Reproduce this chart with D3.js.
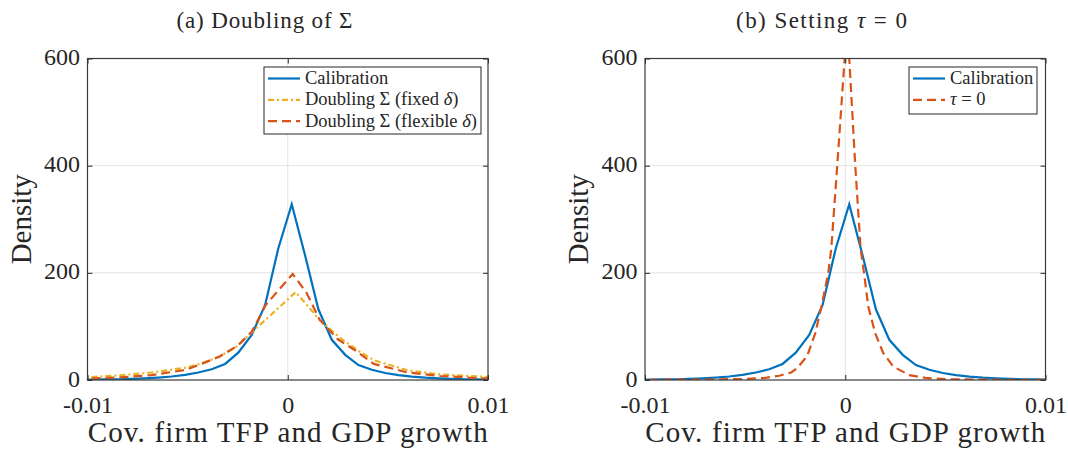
<!DOCTYPE html>
<html>
<head>
<meta charset="utf-8">
<script src="https://cdn.jsdelivr.net/npm/d3@7"></script>
<style>
  body { margin: 0; background: #fff; }
  svg text { font-family: "Liberation Serif", "DejaVu Serif", serif; fill: #262626; }
</style>
</head>
<body>
<script>
// ---- data ----
var xTicks = [-0.01, 0, 0.01];
var xTickLabels = ["-0.01", "0", "0.01"];
var yTicks = [0, 200, 400, 600];

var calX = [-0.0105, -0.0098, -0.00913, -0.00847, -0.0078, -0.00713, -0.00647, -0.0058, -0.00513, -0.00447,
            -0.0038, -0.00313, -0.00247, -0.0018, -0.00113, -0.00047, 0.0002, 0.00087, 0.00153, 0.0022,
            0.00287, 0.00353, 0.0042, 0.00487, 0.00553, 0.0062, 0.00687, 0.00753, 0.0082, 0.00887, 0.00953, 0.0102];
var calY = [0.5, 0.7, 1.0, 1.4, 2.0, 3.0, 4.5, 6.5, 9.5, 14,
            20, 30, 51, 84, 140, 246, 328, 232, 132, 75,
            47, 28, 19, 13, 9, 6.2, 4.3, 3, 2, 1.4, 1, 0.7];

var fixedX = [-0.0105, -0.0085, -0.0068, -0.0051, -0.0043, -0.0034, -0.0026, -0.0015, 0.0004,
              0.0016, 0.0026, 0.0035, 0.0043, 0.006, 0.0076, 0.0098, 0.0105];
var fixedY = [4, 8.5, 14, 23, 31, 44, 61, 99, 164,
              112, 79, 55, 37, 18, 10.5, 6, 5];

var flexX = [-0.0105, -0.0085, -0.0068, -0.0051, -0.0043, -0.0034, -0.0025, -0.0018, -0.0011, 0.00025,
             0.00095, 0.0016, 0.0025, 0.0033, 0.0043, 0.006, 0.0076, 0.0098, 0.0105];
var flexY = [1.8, 4.5, 9, 19, 30, 44, 64, 90, 140, 198,
             162, 112, 76, 57, 30, 14, 7.5, 3, 2.5];

var tauX = [-0.0105, -0.007, -0.005, -0.004, -0.0033, -0.0027, -0.0024, -0.0019, -0.0015, -0.0012,
            -0.00085, -0.0007, -0.0004, -0.00003, 0.0001, 0.0002, 0.0005, 0.00077, 0.00094, 0.00115,
            0.0015, 0.0019, 0.0024, 0.0032, 0.004, 0.005, 0.007, 0.0105];
var tauY = [0.3, 0.8, 2, 4, 8, 14, 22, 45, 87, 135,
            200, 244, 400, 600, 690, 600, 400, 244, 199, 137,
            87, 50, 25, 9, 4, 1.5, 0.6, 0.2];

var colBlue = "#0072BD", colRed = "#D95319", colYellow = "#EDB120";

var W = 1068, H = 449;
var svg = d3.select("body").append("svg").attr("width", W).attr("height", H);

function zip(xs, ys) { return xs.map(function(v, i) { return [v, ys[i]]; }); }

function panel(id, left, title, titleX, series, legend) {
  var top = 58.5, bottom = 380, right = left + 400.5;
  var x = d3.scaleLinear().domain([-0.01, 0.01]).range([left, right]);
  var y = d3.scaleLinear().domain([0, 600]).range([bottom, top]);
  var g = svg.append("g");

  // grid
  g.selectAll(".gx").data(xTicks.slice(1, -1)).enter().append("line")
    .attr("x1", function(d) { return x(d); }).attr("x2", function(d) { return x(d); })
    .attr("y1", top).attr("y2", bottom).attr("stroke", "#e3e3e3").attr("stroke-width", 1);
  g.selectAll(".gy").data(yTicks.slice(1, -1)).enter().append("line")
    .attr("y1", function(d) { return y(d); }).attr("y2", function(d) { return y(d); })
    .attr("x1", left).attr("x2", right).attr("stroke", "#e3e3e3").attr("stroke-width", 1);

  // curves
  svg.append("clipPath").attr("id", "clip" + id).append("rect")
    .attr("x", left).attr("y", top).attr("width", right - left).attr("height", bottom - top);
  var line = d3.line().x(function(d) { return x(d[0]); }).y(function(d) { return y(d[1]); });
  series.forEach(function(s) {
    g.append("path").datum(s.data).attr("d", line)
      .attr("clip-path", "url(#clip" + id + ")")
      .attr("fill", "none").attr("stroke", s.color).attr("stroke-width", 2.2)
      .attr("stroke-dasharray", s.dash);
  });

  // axes with inward ticks
  var ax = function(a, tr) {
    var gg = g.append("g").attr("transform", tr).call(a);
    gg.select(".domain").remove();
    gg.selectAll(".tick line").attr("stroke", "#262626");
    return gg;
  };
  var xb = ax(d3.axisBottom(x).tickValues(xTicks).tickSizeInner(-5).tickPadding(16)
    .tickFormat(function(d, i) { return xTickLabels[i]; }), "translate(0," + bottom + ")");
  xb.selectAll("text").attr("font-size", 24).attr("fill", "#262626").attr("font-family", "Liberation Serif");
  ax(d3.axisTop(x).tickValues(xTicks).tickSizeInner(-5).tickFormat(""), "translate(0," + top + ")");
  var yl = ax(d3.axisLeft(y).tickValues(yTicks).tickSizeInner(-5).tickPadding(7.5), "translate(" + left + ",0)");
  yl.selectAll("text").attr("font-size", 24).attr("fill", "#262626").attr("font-family", "Liberation Serif")
    .attr("dy", "0.25em");
  ax(d3.axisRight(y).tickValues(yTicks).tickSizeInner(-5).tickFormat(""), "translate(" + right + ",0)");

  g.append("rect").attr("x", left).attr("y", top).attr("width", right - left).attr("height", bottom - top)
    .attr("fill", "none").attr("stroke", "#3a3a3a").attr("stroke-width", 1.2);

  // labels
  g.append("text").attr("x", (left + right) / 2).attr("y", 442).attr("text-anchor", "middle")
    .attr("font-size", 29).attr("textLength", 400).attr("lengthAdjust", "spacing")
    .text("Cov. firm TFP and GDP growth");
  g.append("text").attr("transform", "translate(" + (left - 57) + "," + ((top + bottom) / 2) + ") rotate(-90)")
    .attr("text-anchor", "middle").attr("font-size", 29).text("Density");

  var t = g.append("text").attr("x", titleX).attr("y", 28).attr("text-anchor", "middle").attr("font-size", 23)
    .attr("textLength", title.len).attr("lengthAdjust", "spacing");
  title.parts.forEach(function(p) {
    t.append("tspan").attr("font-style", p.it ? "italic" : null).text(p.s);
  });

  // legend
  var lg = g.append("g");
  lg.append("rect").attr("x", legend.x).attr("y", 67).attr("width", legend.w).attr("height", legend.h)
    .attr("fill", "#fff").attr("stroke", "#262626").attr("stroke-width", 1);
  series.forEach(function(s, i) {
    var yy = 78.5 + i * 21.3;
    lg.append("line").attr("x1", legend.x + 4).attr("x2", legend.x + 36).attr("y1", yy).attr("y2", yy)
      .attr("stroke", s.color).attr("stroke-width", 2.2).attr("stroke-dasharray", s.dash);
    var tx = lg.append("text").attr("x", legend.x + 41).attr("y", yy + 5.5).attr("font-size", 18.5);
    s.label.forEach(function(p) {
      tx.append("tspan").attr("font-style", p.it ? "italic" : null).text(p.s);
    });
  });
}

panel("a", 87.5, {parts: [{s: "(a) Doubling of Σ"}], len: 176}, 264.5, [
  {data: zip(calX, calY), color: colBlue, dash: null, label: [{s: "Calibration"}]},
  {data: zip(fixedX, fixedY), color: colYellow, dash: "6,3,2,3",
    label: [{s: "Doubling Σ (fixed "}, {s: "δ", it: true}, {s: ")"}]},
  {data: zip(flexX, flexY), color: colRed, dash: "9,5",
    label: [{s: "Doubling Σ (flexible "}, {s: "δ", it: true}, {s: ")"}]}
], {x: 264, w: 217, h: 67});

panel("b", 645, {parts: [{s: "(b) Setting "}, {s: "τ", it: true}, {s: " = 0"}], len: 171}, 821.5, [
  {data: zip(calX, calY), color: colBlue, dash: null, label: [{s: "Calibration"}]},
  {data: zip(tauX, tauY), color: colRed, dash: "9,5",
    label: [{s: "τ", it: true}, {s: " = 0"}]}
], {x: 909, w: 128, h: 47});
</script>
</body>
</html>
